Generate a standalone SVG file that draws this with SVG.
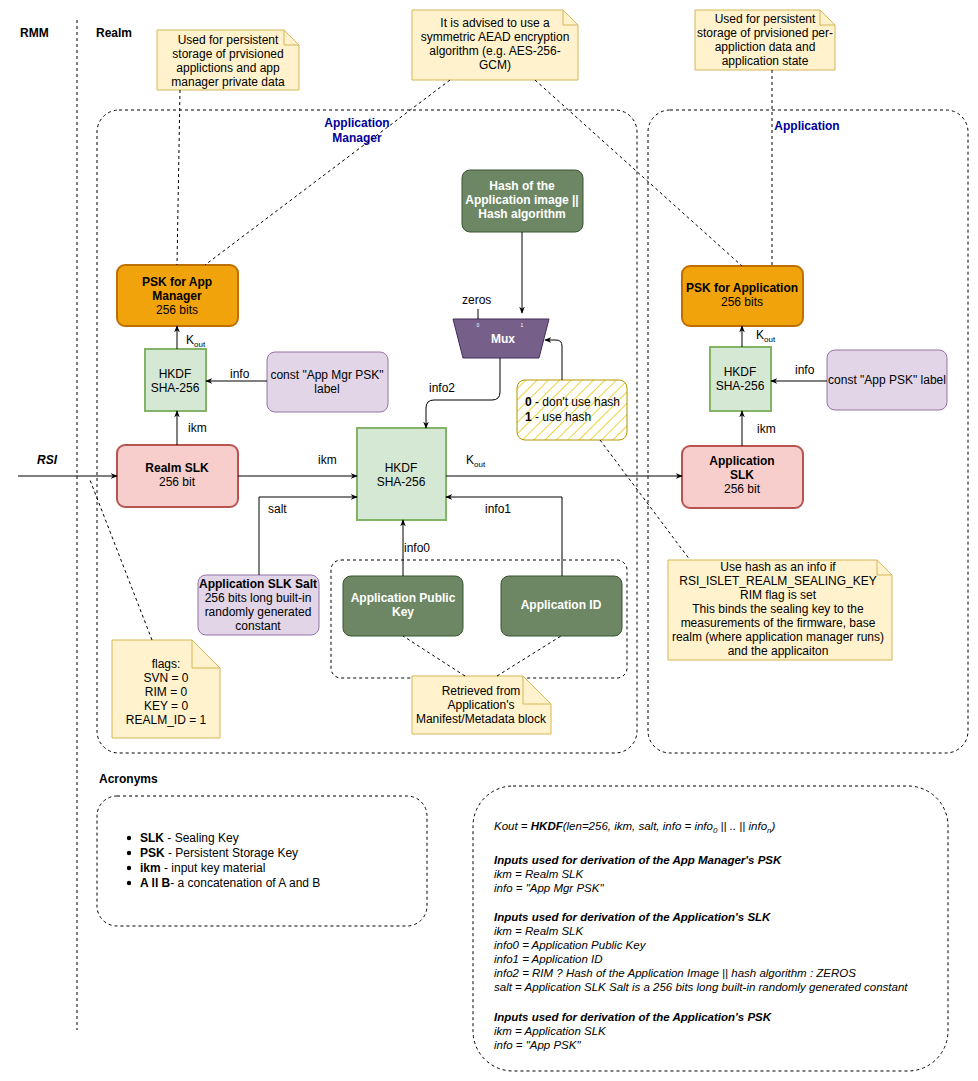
<svg xmlns="http://www.w3.org/2000/svg" width="978" height="1081" viewBox="0 0 978 1081">
<defs>
<marker id="a" viewBox="0 0 10 10" refX="9" refY="5" markerWidth="7" markerHeight="7" orient="auto"><path d="M0,1 L10,5 L0,9 L3,5 Z" fill="#000"/></marker>
<pattern id="h" width="8" height="8" patternUnits="userSpaceOnUse" patternTransform="rotate(45)"><rect width="8" height="8" fill="#fff"/><line x1="0" y1="0" x2="0" y2="8" stroke="#e3c800" stroke-width="1.5"/></pattern>
<style>
text{font-family:"Liberation Sans",Arial,sans-serif;font-size:12px;fill:#000}
.c{text-anchor:middle}
.b{font-weight:bold}
.w{fill:#fff}
.cont{fill:none;stroke:#000;stroke-dasharray:3 3}
.note{fill:#fff2cc;stroke:#d6b656}
.or{fill:#f0a30a;stroke:#BD7000;stroke-width:2}
.gr{fill:#d5e8d4;stroke:#82b366;stroke-width:2}
.pu{fill:#e1d5e7;stroke:#9673a6}
.re{fill:#f8cecc;stroke:#b85450;stroke-width:2}
.dg{fill:#6d8764;stroke:#3A5431}
.ln{fill:none;stroke:#000;marker-end:url(#a)}
.dl{fill:none;stroke:#000;stroke-dasharray:3 3}
.it{font-style:italic;font-size:11.5px}
</style>
</defs>
<text x="20" y="37" class="b">RMM</text>
<text x="96" y="37" class="b">Realm</text>
<line x1="77" y1="20" x2="77" y2="1030" class="dl"/>

<g id="appmgr"><rect x="97" y="110" width="540" height="643" rx="22" class="cont"/>
<text x="357" y="127" class="c b" fill="#000099" style="fill:#000099">Application</text><text x="357" y="142" class="c b" style="fill:#000099">Manager</text></g>
<g id="app"><rect x="648" y="110" width="320" height="643" rx="22" class="cont"/>
<text x="807" y="130" class="c b" style="fill:#000099">Application</text></g>

<g id="note1"><path d="M157,30 H284 L299,45 V90 H157 Z" class="note"/><path d="M284,30 V45 H299" fill="none" stroke="#d6b656"/>
<text class="c" x="228" y="44">Used for persistent</text><text class="c" x="228" y="58">storage of prvisioned</text><text class="c" x="228" y="72">applictions and app</text><text class="c" x="228" y="86">manager private data</text></g>
<g id="note2"><path d="M412,10 H563 L578,25 V80 H412 Z" class="note"/><path d="M563,10 V25 H578" fill="none" stroke="#d6b656"/>
<text class="c" x="495" y="27">It is advised to use a</text><text class="c" x="495" y="41">symmetric AEAD encryption</text><text class="c" x="495" y="55">algorithm (e.g. AES-256-</text><text class="c" x="495" y="69">GCM)</text></g>
<g id="note3"><path d="M695,10 H820 L835,25 V70 H695 Z" class="note"/><path d="M820,10 V25 H835" fill="none" stroke="#d6b656"/>
<text class="c" x="765" y="23">Used for persistent</text><text class="c" x="765" y="37">storage of prvisioned per-</text><text class="c" x="765" y="51">appliction data and</text><text class="c" x="765" y="65">application state</text></g>

<g id="pskmgr"><rect x="117" y="265" width="121" height="61" rx="8" class="or"/><text class="c b" x="177" y="286">PSK for App</text><text class="c b" x="177" y="300">Manager</text><text class="c" x="177" y="314">256 bits</text></g>
<g id="hkdf1"><rect x="145" y="349" width="61" height="62" class="gr"/><text class="c" x="175" y="378">HKDF</text><text class="c" x="175" y="392">SHA-256</text></g>
<g id="constmgr"><rect x="267" y="352" width="121" height="60" rx="8" class="pu"/><text class="c" x="327" y="379">const "App Mgr PSK"</text><text class="c" x="327" y="393">label</text></g>
<g id="realmslk"><rect x="117" y="445" width="121" height="62" rx="8" class="re"/><text class="c b" x="177" y="472">Realm SLK</text><text class="c" x="177" y="486">256 bit</text></g>
<g id="hkdfc"><rect x="357" y="428" width="89" height="92" class="gr"/><text class="c" x="401" y="472">HKDF</text><text class="c" x="401" y="486">SHA-256</text></g>
<g id="hash"><rect x="462" y="170" width="121" height="62" rx="8" class="dg"/><text class="c b w" x="522" y="190">Hash of the</text><text class="c b w" x="522" y="204">Application image ||</text><text class="c b w" x="522" y="218">Hash algorithm</text></g>
<g id="mux"><path d="M453,319 H549 L539,358 H463 Z" fill="#76608a" stroke="#432D57"/><text class="c b w" x="503" y="343">Mux</text>
<text x="478" y="327" class="c w" style="font-size:5px">0</text><text x="522" y="327" class="c w" style="font-size:5px">1</text></g>
<g id="sel"><rect x="517" y="380" width="110" height="60" rx="8" fill="url(#h)" stroke="#B09500"/><text x="525" y="406"><tspan class="b">0</tspan> - don't use hash</text><text x="525" y="421"><tspan class="b">1</tspan> - use hash</text></g>
<g id="pskapp"><rect x="682" y="266" width="121" height="60" rx="8" class="or"/><text class="c b" x="742" y="292">PSK for Application</text><text class="c" x="742" y="306">256 bits</text></g>
<g id="hkdf2"><rect x="710" y="347" width="61" height="64" class="gr"/><text class="c" x="740" y="376">HKDF</text><text class="c" x="740" y="390">SHA-256</text></g>
<g id="constapp"><rect x="827" y="350" width="120" height="60" rx="8" class="pu"/><text class="c" x="887" y="384">const "App PSK" label</text></g>
<g id="appslk"><rect x="682" y="446" width="121" height="62" rx="8" class="re"/><text class="c b" x="742" y="465">Application</text><text class="c b" x="742" y="479">SLK</text><text class="c" x="742" y="493">256 bit</text></g>
<g id="grp"><rect x="331" y="560" width="296" height="118" rx="10" class="cont"/></g>
<g id="pubkey"><rect x="343" y="576" width="120" height="60" rx="8" class="dg"/><text class="c b w" x="403" y="602">Application Public</text><text class="c b w" x="403" y="616">Key</text></g>
<g id="appid"><rect x="501" y="576" width="121" height="60" rx="8" class="dg"/><text class="c b w" x="561" y="609">Application ID</text></g>
<g id="salt"><rect x="198" y="575" width="121" height="60" rx="8" class="pu"/><text class="c b" x="258" y="588">Application SLK Salt</text><text class="c" x="258" y="602">256 bits long built-in</text><text class="c" x="258" y="616">randomly generated</text><text class="c" x="258" y="630">constant</text></g>
<g id="flags"><path d="M112,640 H192 L220,668 V738 H112 Z" class="note"/><path d="M192,640 V668 H220" fill="none" stroke="#d6b656"/>
<text class="c" x="166" y="668">flags:</text><text class="c" x="166" y="682">SVN = 0</text><text class="c" x="166" y="696">RIM = 0</text><text class="c" x="166" y="710">KEY = 0</text><text class="c" x="166" y="724">REALM_ID = 1</text></g>
<g id="retr"><path d="M412,676 H523 L551,704 V734 H412 Z" class="note"/><path d="M523,676 V704 H551" fill="none" stroke="#d6b656"/>
<text class="c" x="481" y="695">Retrieved from</text><text class="c" x="481" y="709">Application's</text><text class="c" x="481" y="723">Manifest/Metadata block</text></g>
<g id="rnote"><path d="M668,560 H877 L892,575 V660 H668 Z" class="note"/><path d="M877,560 V575 H892" fill="none" stroke="#d6b656"/>
<text class="c" x="778" y="571">Use hash as an info if</text><text class="c" x="778" y="585">RSI_ISLET_REALM_SEALING_KEY</text><text class="c" x="778" y="599">RIM flag is set</text><text class="c" x="778" y="613">This binds the sealing key to the</text><text class="c" x="778" y="627">measurements of the firmware, base</text><text class="c" x="778" y="641">realm (where application manager runs)</text><text class="c" x="778" y="655">and the applicaiton</text></g>

<g id="acr"><text x="99" y="783" class="b">Acronyms</text><rect x="97" y="796" width="330" height="130" rx="20" class="cont"/>
<g style="font-size:11.5px"><circle cx="129" cy="838" r="2.2"/><text x="140" y="842"><tspan class="b">SLK</tspan> - Sealing Key</text>
<circle cx="129" cy="853" r="2.2"/><text x="140" y="857"><tspan class="b">PSK</tspan> - Persistent Storage Key</text>
<circle cx="129" cy="868" r="2.2"/><text x="140" y="872"><tspan class="b">ikm</tspan> - input key material</text>
<circle cx="129" cy="883" r="2.2"/><text x="140" y="887"><tspan class="b">A ll B</tspan>- a concatenation of A and B</text></g></g>

<g id="formula"><rect x="473" y="786" width="475" height="285" rx="40" class="cont"/>
<text class="it" x="494" y="830">Kout = <tspan class="b">HKDF</tspan>(len=256, ikm, salt, info = info<tspan font-size="8" dy="3">0</tspan><tspan dy="-3"> || .. || info</tspan><tspan font-size="8" dy="3">n</tspan><tspan dy="-3">)</tspan></text>
<text class="it b" x="494" y="864">Inputs used for derivation of the App Manager's PSK</text>
<text class="it" x="494" y="878">ikm = Realm SLK</text><text class="it" x="494" y="892">info = "App Mgr PSK"</text>
<text class="it b" x="494" y="921">Inputs used for derivation of the Application's SLK</text>
<text class="it" x="494" y="935">ikm = Realm SLK</text><text class="it" x="494" y="949">info0 = Application Public Key</text><text class="it" x="494" y="963">info1 = Application ID</text><text class="it" x="494" y="977">info2 = RIM ? Hash of the Application Image || hash algorithm : ZEROS</text><text class="it" x="494" y="991">salt = Application SLK Salt is a 256 bits long built-in randomly generated constant</text>
<text class="it b" x="494" y="1021">Inputs used for derivation of the Application's PSK</text>
<text class="it" x="494" y="1035">ikm = Application SLK</text><text class="it" x="494" y="1049">info = "App PSK"</text></g>

<g id="connectors">
<line x1="18" y1="476" x2="117" y2="476" class="ln"/><text x="37" y="464" class="b" font-style="italic">RSI</text>
<line x1="238" y1="476" x2="357" y2="476" class="ln"/><text x="318" y="464">ikm</text>
<line x1="177" y1="445" x2="177" y2="411" class="ln"/><text x="188" y="432">ikm</text>
<line x1="177" y1="349" x2="177" y2="326" class="ln"/><text x="186" y="344">K<tspan font-size="8" dy="3">out</tspan></text>
<line x1="267" y1="381" x2="206" y2="381" class="ln"/><text x="230" y="378">info</text>
<line x1="446" y1="476" x2="682" y2="476" class="ln"/><text x="466" y="464">K<tspan font-size="8" dy="3">out</tspan></text>
<line x1="742" y1="446" x2="742" y2="411" class="ln"/><text x="757" y="433">ikm</text>
<line x1="742" y1="347" x2="742" y2="326" class="ln"/><text x="756" y="339">K<tspan font-size="8" dy="3">out</tspan></text>
<line x1="827" y1="381" x2="771" y2="381" class="ln"/><text x="795" y="374">info</text>
<line x1="522" y1="232" x2="522" y2="313" class="ln"/>
<line x1="478" y1="309" x2="478" y2="319" stroke="#000"/><text x="462" y="304">zeros</text>
<path d="M500,358 V392 Q500,400 492,400 H434 Q426,400 426,408 V428" class="ln"/><text x="429" y="392">info2</text>
<path d="M562,380 V346 Q562,340 556,340 H545" class="ln"/>
<path d="M259,575 V497 H357" class="ln"/><text x="268" y="513">salt</text>
<line x1="403" y1="576" x2="403" y2="520" class="ln"/><text x="404" y="552">info0</text>
<path d="M562,576 V497 H446" class="ln"/><text x="485" y="513">info1</text>
<line x1="180" y1="90" x2="177" y2="265" class="dl"/>
<line x1="450" y1="80" x2="205" y2="265" class="dl"/>
<line x1="535" y1="80" x2="742" y2="266" class="dl"/>
<line x1="772" y1="70" x2="772" y2="266" class="dl"/>
<line x1="600" y1="440" x2="690" y2="560" class="dl"/>
<line x1="152" y1="640" x2="90" y2="480" class="dl"/>
<line x1="465" y1="676" x2="403" y2="636" class="dl"/>
<line x1="497" y1="676" x2="561" y2="636" class="dl"/>
</g>
</svg>
